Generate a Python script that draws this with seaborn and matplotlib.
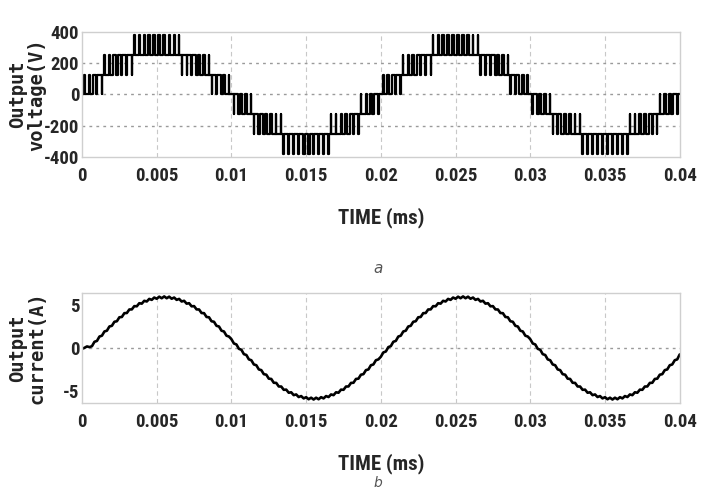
import matplotlib
matplotlib.use("Agg")
import matplotlib.pyplot as plt
import numpy as np
import pandas as pd
import seaborn as sns
from matplotlib import font_manager

# --- data ---
fundamental_hz = 50
carrier_per_cycle = 60          # ~3 kHz carrier, counted from the pulses
n_cycles = 2

# output voltage: 7-level staircase, one cell = ~127 V
level_v = [0, 127, 254, 381]
# first quarter cycle, one entry per carrier period
quarter_band = [0, 0, 0, 0, 1, 1, 1, 1, 1, 1, 2, 2, 2, 2, 2]
quarter_duty = [0.12, 0.37, 0.61, 0.84, 0.07, 0.28, 0.48, 0.66, 0.83, 0.97,
                0.10, 0.19, 0.27, 0.32, 0.35]

# output current, positive half cycle sampled every half carrier period
half_current = [-1.02, -0.52, -0.41, 0.10, 0.21, 0.72, 0.82, 1.33, 1.43, 1.92,
                2.01, 2.50, 2.58, 3.05, 3.11, 3.57, 3.61, 4.05, 4.07, 4.48,
                4.49, 4.87, 4.85, 5.21, 5.16, 5.49, 5.41, 5.71, 5.60, 5.87,
                5.73, 5.97, 5.79, 6.00, 5.79, 5.97, 5.73, 5.87, 5.60, 5.71,
                5.41, 5.49, 5.16, 5.21, 4.85, 4.87, 4.49, 4.48, 4.07, 4.05,
                3.61, 3.57, 3.11, 3.05, 2.58, 2.50, 2.01, 1.92, 1.43, 1.33]
startup_current = [-0.10, 0.02, 0.18]
end_current = -0.75

time_ticks = [0, 0.005, 0.01, 0.015, 0.02, 0.025, 0.03, 0.035, 0.04]
time_labels = ["0", "0.005", "0.01", "0.015", "0.02", "0.025", "0.03", "0.035", "0.04"]
v_ticks = [-400, -200, 0, 200, 400]
i_ticks = [-5, 0, 5]

# --- build the voltage step edges from the per-period duty ---
T = 1 / fundamental_hz
Tc = T / carrier_per_cycle
half_band = quarter_band + quarter_band[::-1]
half_duty = quarter_duty + quarter_duty[::-1]

t_v, v = [], []
for j in range(carrier_per_cycle * n_cycles):
    p = j % carrier_per_cycle
    sgn = 1 if p < carrier_per_cycle // 2 else -1
    b = half_band[p % (carrier_per_cycle // 2)]
    d = half_duty[p % (carrier_per_cycle // 2)]
    t0 = j * Tc
    t_v += [t0, t0 + Tc * (1 - d) / 2, t0 + Tc * (1 + d) / 2]
    v += [sgn * level_v[b], sgn * level_v[b + 1], sgn * level_v[b]]
t_v.append(n_cycles * T)
v.append(v[-1])
df_v = pd.DataFrame({"t": t_v, "v": v})

cycle_current = half_current + [-x for x in half_current]
current = cycle_current * n_cycles + [end_current]
current[:len(startup_current)] = startup_current
t_i = np.arange(len(current)) * (Tc / 2)
df_i = pd.DataFrame({"t": t_i, "i": current})

# --- fonts: look for a narrow face, otherwise shrink ---
fonts = font_manager.fontManager.ttflist
names = {f.name for f in fonts}
narrow = None
for cand in ["Liberation Sans Narrow", "Roboto Condensed", "Open Sans Condensed",
             "DejaVu Sans Condensed", "Noto Sans Condensed"]:
    if cand in names:
        narrow = cand
        break
stretch = "normal"
if narrow is None:
    narrow = "DejaVu Sans"
    if any(f.name == "DejaVu Sans" and f.stretch == "condensed" for f in fonts):
        stretch = "condensed"
is_narrow = narrow != "DejaVu Sans" or stretch == "condensed"
tick_size = 13.5 if is_narrow else 10.5
label_size = 15 if is_narrow else 12.5

tick_font = dict(family=[narrow, "DejaVu Sans"], weight="bold", size=tick_size,
                 stretch=stretch)
mono_font = dict(family=["DejaVu Sans Mono", "DejaVu Sans"], weight="bold",
                 size=13.5 if is_narrow else 11.5, color="#222222")

sns.set_style("white")

fig = plt.figure(figsize=(7.04, 4.92), dpi=100)
ax1 = fig.add_axes([0.1165, 0.681, 0.849, 0.254])
ax2 = fig.add_axes([0.1165, 0.181, 0.849, 0.2235])

sns.lineplot(data=df_v, x="t", y="v", ax=ax1, estimator=None, sort=False,
             drawstyle="steps-post", color="black", linewidth=1.6)
sns.lineplot(data=df_i, x="t", y="i", ax=ax2, estimator=None, sort=False,
             color="black", linewidth=1.9)


def style_axis(ax, yticks, ylim, ylabel, label_y):
    ax.set_xlim(0, 0.04)
    ax.set_ylim(*ylim)
    ax.set_xticks(time_ticks)
    ax.set_xticklabels(time_labels, fontdict=tick_font)
    ax.set_yticks(yticks)
    ax.set_yticklabels([str(y) for y in yticks], fontdict=tick_font)
    ax.tick_params(axis="x", length=0, pad=7)
    ax.tick_params(axis="y", length=0, pad=2)
    for x in time_ticks[1:-1]:
        ax.axvline(x, color="#c8c8c8", lw=0.8, ls=(0, (4, 3)), zorder=0)
    for y in yticks[1:-1]:
        ax.axhline(y, color="#9a9a9a", lw=1.0, ls=(0, (2, 3)), zorder=0)
    for s in ax.spines.values():
        s.set_color("#cfcfcf")
        s.set_linewidth(1.0)
    ax.set_xlabel("TIME (ms)", family=[narrow, "DejaVu Sans"], weight="bold",
                  size=label_size, stretch=stretch)
    ax.xaxis.set_label_coords(0.5, label_y)
    ax.xaxis.label.set_va("center")
    ax.set_ylabel(ylabel, linespacing=1.0, **mono_font)
    ax.yaxis.set_label_coords(-0.092, 0.5)
    ax.yaxis.label.set_va("center")


style_axis(ax1, v_ticks, (-400, 400), "Output\nvoltage(V)", -0.488)
style_axis(ax2, i_ticks, (-6.4, 6.4), "Output\ncurrent(A)", -0.555)

fig.text(0.537, 0.455, "a", style="italic", color="#555555", size=11,
         ha="center", va="center")
fig.text(0.537, 0.018, "b", style="italic", color="#555555", size=10,
         ha="center", va="center")

fig.savefig("out.png", dpi=100)
